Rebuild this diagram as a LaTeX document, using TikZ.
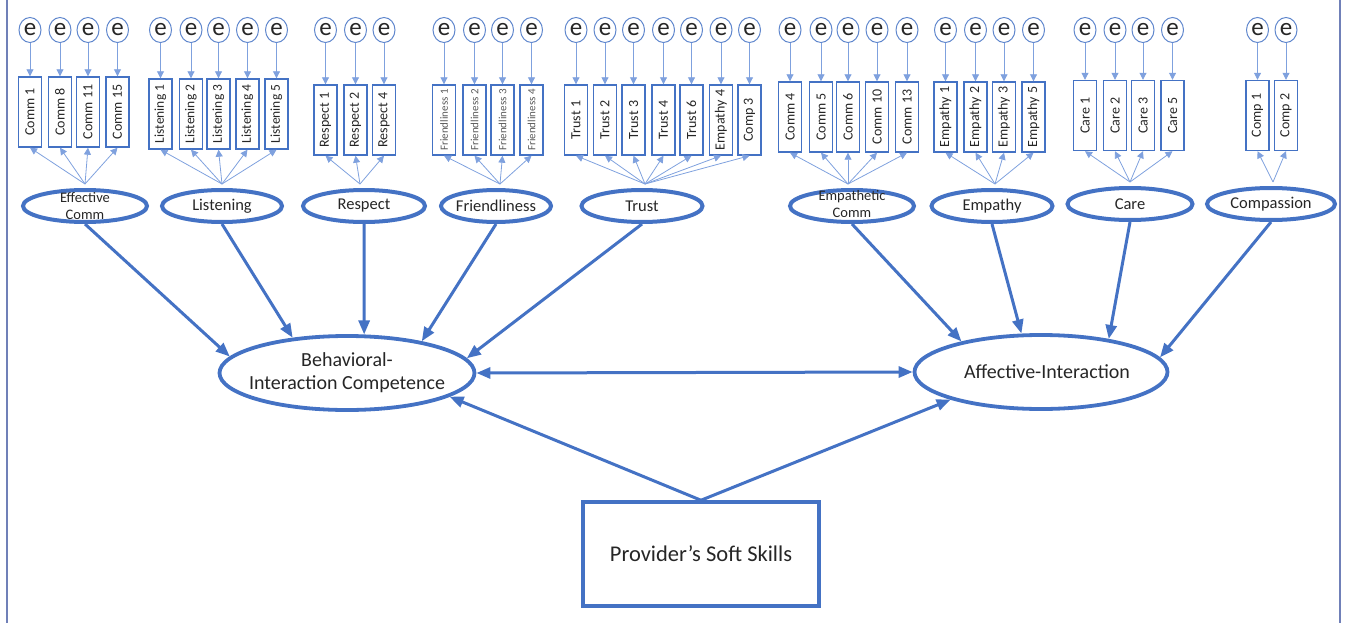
\documentclass[tikz,border=0pt]{standalone}
\usepackage{fontspec}
\setmainfont{Carlito}
\usetikzlibrary{arrows.meta,shapes.geometric}
\definecolor{sembl}{HTML}{4472C4}
\definecolor{fanbl}{HTML}{7FA1DE}
\definecolor{edgebl}{HTML}{7080B8}
\definecolor{txt}{HTML}{262626}
\tikzset{
  err/.style={ellipse, draw=sembl!85, line width=1pt, minimum width=22pt, minimum height=25pt,
    inner sep=0pt, text=txt, font=\fontsize{25}{25}\selectfont},
  item/.style={rectangle, draw=sembl, line width=1.4pt, minimum width=23pt, minimum height=70pt,
    inner sep=0pt, text=txt, font=\fontsize{14}{14}\selectfont},
  lat/.style={ellipse, draw=sembl, line width=4pt, minimum width=122pt, minimum height=32pt, inner sep=0pt},
  lattxt/.style={text=txt, align=center, font=\fontsize{16.5}{17}\selectfont},
  bigell/.style={ellipse, draw=sembl, line width=3.8pt, minimum width=255pt, minimum height=74pt, inner sep=0pt},
  bigtxt/.style={text=txt, align=center, font=\fontsize{20}{23}\selectfont},
  fan/.style={draw=fanbl, line width=0.8pt, -{Triangle[length=7pt,width=7pt]}},
  load/.style={draw=fanbl, line width=0.9pt, -{Triangle[length=7pt,width=7pt]}},
  struct/.style={draw=sembl, line width=3pt, -{Triangle[length=14pt,width=11pt]}}
}
\begin{document}
\begin{tikzpicture}[x=1pt, y=-1pt]
	\useasboundingbox (0,0) rectangle (1346,623);
	% frame lines
	\draw[edgebl, line width=1.5pt] (7,0) -- (7,623);
	\draw[edgebl, line width=1.5pt] (1340,0) -- (1340,623);
	
	% 1. first-order factors with their indicators
	\node[lat, minimum width=124pt] (effc) at (85,206) {};
	\node[lattxt, font=\fontsize{14.5}{16.5}\selectfont] (effcT) at (effc) {Effective\\Comm};
	\coordinate (effcF) at ([yshift=4pt]effc.north);
	\foreach \x/\lab [count=\i] in {30/Comm 1, 60/Comm 8, 88/Comm 11, 117.5/Comm 15}{
		\node[err] (effcE\i) at (\x,30) {e};
		\node[item] (effcI\i) at (\x,112) {\rotatebox{90}{\lab}};
		\draw[load] (effcE\i) -- (effcI\i);
		\draw[fan] (effcF) -- (effcI\i.south);
	}
	
	\node[lat, minimum width=120pt] (lis) at (222,206) {};
	\node[lattxt] (lisT) at (lis) {Listening};
	\coordinate (lisF) at ([yshift=4pt]lis.north);
	\foreach \x/\lab [count=\i] in {160.5/Listening 1, 191/Listening 2, 218.5/Listening 3, 247.5/Listening 4, 276.5/Listening 5}{
		\node[err] (lisE\i) at (\x,30) {e};
		\node[item, font=\fontsize{13.5}{13.5}\selectfont] (lisI\i) at (\x,114) {\rotatebox{90}{\lab}};
		\draw[load] (lisE\i) -- (lisI\i);
		\draw[fan] (lisF) -- (lisI\i.south);
	}
	
	\node[lat] (res) at (364,206) {};
	\node[lattxt] (resT) at (res) {Respect};
	\coordinate (resF) at ([yshift=4pt,xshift=-4pt]res.north);
	\foreach \x/\lab [count=\i] in {325.5/Respect 1, 355.5/Respect 2, 384/Respect 4}{
		\node[err] (resE\i) at (\x,30) {e};
		\node[item] (resI\i) at (\x,120) {\rotatebox{90}{\lab}};
		\draw[load] (resE\i) -- (resI\i);
		\draw[fan] (resF) -- (resI\i.south);
	}
	
	\node[lat, minimum width=110pt] (fri) at (496,206) {};
	\node[lattxt] (friT) at (fri) {Friendliness};
	\coordinate (friF) at ([yshift=4pt,xshift=4pt]fri.north);
	\foreach \x/\lab [count=\i] in {444/Friendliness 1, 474.5/Friendliness 2, 502.5/Friendliness 3, 531.5/Friendliness 4}{
		\node[err] (friE\i) at (\x,30) {e};
		\node[item, text=black!65, font=\fontsize{11}{11}\selectfont] (friI\i) at (\x,120) {\rotatebox{90}{\lab}};
		\draw[load] (friE\i) -- (friI\i);
		\draw[fan] (friF) -- (friI\i.south);
	}
	
	\node[lat, minimum width=121pt] (tru) at (642,206) {};
	\node[lattxt] (truT) at (tru) {Trust};
	\coordinate (truF) at ([yshift=4pt,xshift=3pt]tru.north);
	\foreach \x/\lab [count=\i] in {576/Trust 1, 605/Trust 2, 633.5/Trust 3, 663.5/Trust 4, 691.5/Trust 6, 721/Empathy 4, 749.5/Comp 3}{
		\node[err] (truE\i) at (\x,30) {e};
		\node[item] (truI\i) at (\x,120) {\rotatebox{90}{\lab}};
		\draw[load] (truE\i) -- (truI\i);
		\draw[fan] (truF) -- (truI\i.south);
	}
	
	\node[lat, minimum width=124pt] (emc) at (852,206) {};
	\node[lattxt, font=\fontsize{14.5}{16.5}\selectfont] (emcT) at ([yshift=2pt]emc.center) {Empathetic\\Comm};
	\coordinate (emcF) at ([yshift=4pt,xshift=-4pt]emc.north);
	\foreach \x/\lab [count=\i] in {790/Comm 4, 821/Comm 5, 848/Comm 6, 877/Comm 10, 907/Comm 13}{
		\node[err] (emcE\i) at (\x,30) {e};
		\node[item] (emcI\i) at (\x,117) {\rotatebox{90}{\lab}};
		\draw[load] (emcE\i) -- (emcI\i);
		\draw[fan] (emcF) -- (emcI\i.south);
	}
	
	\node[lat, minimum width=121pt] (emp) at (992,206) {};
	\node[lattxt] (empT) at (emp) {Empathy};
	\coordinate (empF) at ([yshift=4pt,xshift=3pt]emp.north);
	\foreach \x/\lab [count=\i] in {945.5/Empathy 1, 975.5/Empathy 2, 1004/Empathy 3, 1033.5/Empathy 5}{
		\node[err] (empE\i) at (\x,30) {e};
		\node[item] (empI\i) at (\x,117) {\rotatebox{90}{\lab}};
		\draw[load] (empE\i) -- (empI\i);
		\draw[fan] (empF) -- (empI\i.south);
	}
	
	\node[lat, minimum width=125pt] (car) at (1130,204) {};
	\node[lattxt] (carT) at (car) {Care};
	\coordinate (carF) at ([yshift=4pt]car.north);
	\foreach \x/\lab [count=\i] in {1085/Care 1, 1115/Care 2, 1143/Care 3, 1172.5/Care 5}{
		\node[err] (carE\i) at (\x,30) {e};
		\node[item] (carI\i) at (\x,115.5) {\rotatebox{90}{\lab}};
		\draw[load] (carE\i) -- (carI\i);
		\draw[fan] (carF) -- (carI\i.south);
	}
	
	\node[lat, minimum width=128pt] (com) at (1271,204) {};
	\node[lattxt] (comT) at (com) {Compassion};
	\coordinate (comF) at ([yshift=4pt,xshift=2pt]com.north);
	\foreach \x/\lab [count=\i] in {1257.5/Comp 1, 1286/Comp 2}{
		\node[err] (comE\i) at (\x,30) {e};
		\node[item] (comI\i) at (\x,115.5) {\rotatebox{90}{\lab}};
		\draw[load] (comE\i) -- (comI\i);
		\draw[fan] (comF) -- (comI\i.south);
	}
	
	% 2. second-order factors and the soft skills box
	\node[bigell] (beh) at (347,373) {};
	\node[bigtxt] (behT) at (beh) {Behavioral-\\Interaction Competence};
	\node[bigell, minimum width=253pt] (aff) at (1041,372) {};
	\node[bigtxt] (affT) at ([xshift=6pt]aff.center) {Affective-Interaction};
	\node[rectangle, draw=sembl, line width=3.5pt, minimum width=236pt, minimum height=104pt,
	  text=txt, font=\fontsize{22.5}{22.5}\selectfont] (prov) at (701,554) {Provider’s Soft Skills};
	
	% 3. structural paths
	\draw[struct] (effc.south) -- (beh.172);
	\draw[struct] (lis.south) -- (beh.147);
	\draw[struct] (res.south) -- (beh.66);
	\draw[struct] (fri.south) -- (beh.23);
	\draw[struct] (tru.south) -- (beh.7);
	\draw[struct] (emc.south) -- (aff.159);
	\draw[struct] (emp.south) -- (aff.117);
	\draw[struct] (car.south) -- (aff.26);
	\draw[struct] (com.south) -- (aff.7);
	\draw[struct, {Triangle[length=14pt,width=11pt]}-{Triangle[length=14pt,width=11pt]}] (beh.east) -- (aff.west);
	\draw[struct] (prov.north) -- (beh.347);
	\draw[struct] (prov.north) -- (aff.197);
	
\end{tikzpicture}
\end{document}
